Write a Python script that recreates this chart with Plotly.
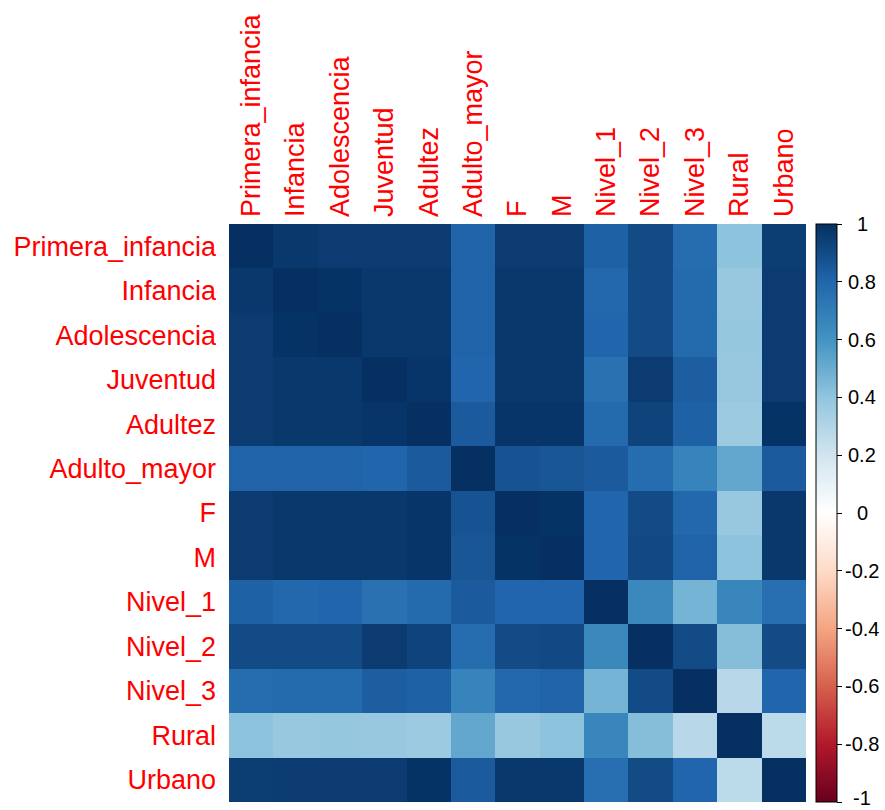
import plotly.graph_objects as go

variables = ["Primera_infancia", "Infancia", "Adolescencia", "Juventud", "Adultez",
             "Adulto_mayor", "F", "M", "Nivel_1", "Nivel_2", "Nivel_3", "Rural", "Urbano"]

# Correlation matrix (rows in the same order as the variables)
r_primera_infancia = [1.00, 0.97, 0.96, 0.96, 0.96, 0.81, 0.96, 0.96, 0.82, 0.90, 0.77, 0.41, 0.95]
r_infancia         = [0.97, 1.00, 0.99, 0.97, 0.97, 0.81, 0.97, 0.97, 0.79, 0.90, 0.78, 0.38, 0.96]
r_adolescencia     = [0.96, 0.99, 1.00, 0.97, 0.97, 0.81, 0.97, 0.97, 0.80, 0.90, 0.78, 0.39, 0.96]
r_juventud         = [0.96, 0.97, 0.97, 1.00, 0.98, 0.80, 0.97, 0.97, 0.75, 0.96, 0.83, 0.38, 0.96]
r_adultez          = [0.96, 0.97, 0.97, 0.98, 1.00, 0.84, 0.98, 0.98, 0.78, 0.93, 0.82, 0.37, 0.99]
r_adulto_mayor     = [0.81, 0.81, 0.81, 0.80, 0.84, 1.00, 0.87, 0.86, 0.84, 0.77, 0.67, 0.52, 0.84]
r_f                = [0.96, 0.97, 0.97, 0.97, 0.98, 0.87, 1.00, 0.99, 0.80, 0.90, 0.79, 0.38, 0.97]
r_m                = [0.96, 0.97, 0.97, 0.97, 0.98, 0.86, 0.99, 1.00, 0.80, 0.91, 0.81, 0.41, 0.97]
r_nivel_1          = [0.82, 0.79, 0.80, 0.75, 0.78, 0.84, 0.80, 0.80, 1.00, 0.65, 0.47, 0.66, 0.76]
r_nivel_2          = [0.90, 0.90, 0.90, 0.96, 0.93, 0.77, 0.90, 0.91, 0.65, 1.00, 0.90, 0.43, 0.90]
r_nivel_3          = [0.77, 0.78, 0.78, 0.83, 0.82, 0.67, 0.79, 0.81, 0.47, 0.90, 1.00, 0.28, 0.80]
r_rural            = [0.41, 0.38, 0.39, 0.38, 0.37, 0.52, 0.38, 0.41, 0.66, 0.43, 0.28, 1.00, 0.27]
r_urbano           = [0.95, 0.96, 0.96, 0.96, 0.99, 0.84, 0.97, 0.97, 0.76, 0.90, 0.80, 0.27, 1.00]

corr = [r_primera_infancia, r_infancia, r_adolescencia, r_juventud, r_adultez,
        r_adulto_mayor, r_f, r_m, r_nivel_1, r_nivel_2, r_nivel_3, r_rural, r_urbano]

cbar_ticks = [-1, -0.8, -0.6, -0.4, -0.2, 0, 0.2, 0.4, 0.6, 0.8, 1]
cbar_labels = ["-1", "-0.8", "-0.6", "-0.4", "-0.2", "0", "0.2", "0.4", "0.6", "0.8", "1"]

# Diverging red-blue palette
rdbu = ["#67001F", "#B2182B", "#D6604D", "#F4A582", "#FDDBC7", "#FFFFFF",
        "#D1E5F0", "#92C5DE", "#4393C3", "#2166AC", "#053061"]
colorscale = [[i / (len(rdbu) - 1), c] for i, c in enumerate(rdbu)]

W, H = 885, 810
L, R, T, B = 229, 79, 224, 8
plot_w = W - L - R

fig = go.Figure(go.Heatmap(
    z=corr, x=variables, y=variables,
    zmin=-1, zmax=1, colorscale=colorscale,
    colorbar=dict(
        x=1 + 10 / plot_w, xanchor="left", y=0.5, yanchor="middle",
        len=1, lenmode="fraction", thickness=21, ypad=0, xpad=0,
        outlinewidth=1, outlinecolor="black",
        tickvals=cbar_ticks, ticktext=[""] * len(cbar_ticks),
        ticks="outside", ticklen=5, tickcolor="black", tickwidth=1,
        showticklabels=False,
    ),
    hovertemplate="%{y} – %{x}: %{z}<extra></extra>",
))

# Colour-bar labels, centred in a column to the right of the bar
label_x = (862 - L) / plot_w
for v, txt in zip(cbar_ticks, cbar_labels):
    fig.add_annotation(
        x=label_x, xref="paper",
        y=(v + 1) / 2, yref="paper",
        text=txt, showarrow=False, xanchor="center", yanchor="middle",
        yshift=4 if v == -1 else 0,
        font=dict(family="Liberation Sans, Arial", size=20, color="black"),
    )

fig.update_layout(
    width=W, height=H,
    margin=dict(l=L, r=R, t=T, b=B),
    paper_bgcolor="white", plot_bgcolor="white",
    font=dict(family="Liberation Sans, Arial"),
    showlegend=False,
)
fig.update_xaxes(side="top", tickangle=-90, showgrid=False, zeroline=False,
                 tickfont=dict(size=27, color="#FF0000"), ticks="", ticklabelstandoff=6)
fig.update_yaxes(autorange="reversed", showgrid=False, zeroline=False,
                 tickfont=dict(size=27, color="#FF0000"), ticks="", ticklabelstandoff=12)

fig.write_html("out.html")
